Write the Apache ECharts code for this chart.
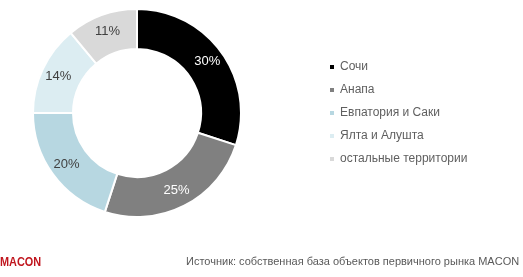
<!DOCTYPE html>
<html><head><meta charset="utf-8">
<script src="https://cdn.jsdelivr.net/npm/echarts@6/dist/echarts.min.js"></script>
<style>html,body{margin:0;padding:0;background:#fff}#c{width:523px;height:277px}</style>
</head><body><div id="c"></div>
<script>
const categories = ['Сочи', 'Анапа', 'Евпатория и Саки', 'Ялта и Алушта', 'остальные территории'];
const values = [30, 25, 20, 14, 11];
const colors = ['#000000', '#808080', '#b7d7e1', '#dcedf2', '#d9d9d9'];
const labelColors = ['#ffffff', '#ffffff', '#404040', '#404040', '#404040'];
const sourceText = 'Источник: собственная база объектов первичного рынка MACON';
const brand = 'MACON';

const chart = echarts.init(document.getElementById('c'), null, {renderer: 'canvas'});
chart.setOption({
  animation: false,
  backgroundColor: '#fff',
  legend: {
    orient: 'vertical', left: 323, top: 56,
    icon: 'rect', itemWidth: 6, itemHeight: 6, itemGap: 11,
    textStyle: {fontFamily: 'Liberation Sans, Arial', fontSize: 12, color: '#5f5f5f'},
    data: categories
  },
  graphic: [
    {type: 'text', x: 0, y: 256, scaleX: 0.84, style: {text: brand, fill: '#c0161e', font: 'bold 13px "Liberation Sans", Arial'}},
    {type: 'text', left: 186, top: 256, style: {text: sourceText, fill: '#595959', font: '11px "Liberation Sans", Arial'}}
  ],
  series: [{
    type: 'pie',
    center: [137, 113],
    radius: [64, 104],
    startAngle: 90,
    clockwise: true,
    itemStyle: {borderColor: '#fff', borderWidth: 2},
    label: {position: 'inside', fontFamily: 'Liberation Sans, Arial', fontSize: 13, formatter: '{c}%'},
    labelLine: {show: false},
    emphasis: {disabled: true},
    data: categories.map((n, i) => ({name: n, value: values[i], itemStyle: {color: colors[i]}, label: {color: labelColors[i]}}))
  }]
});
</script></body></html>
